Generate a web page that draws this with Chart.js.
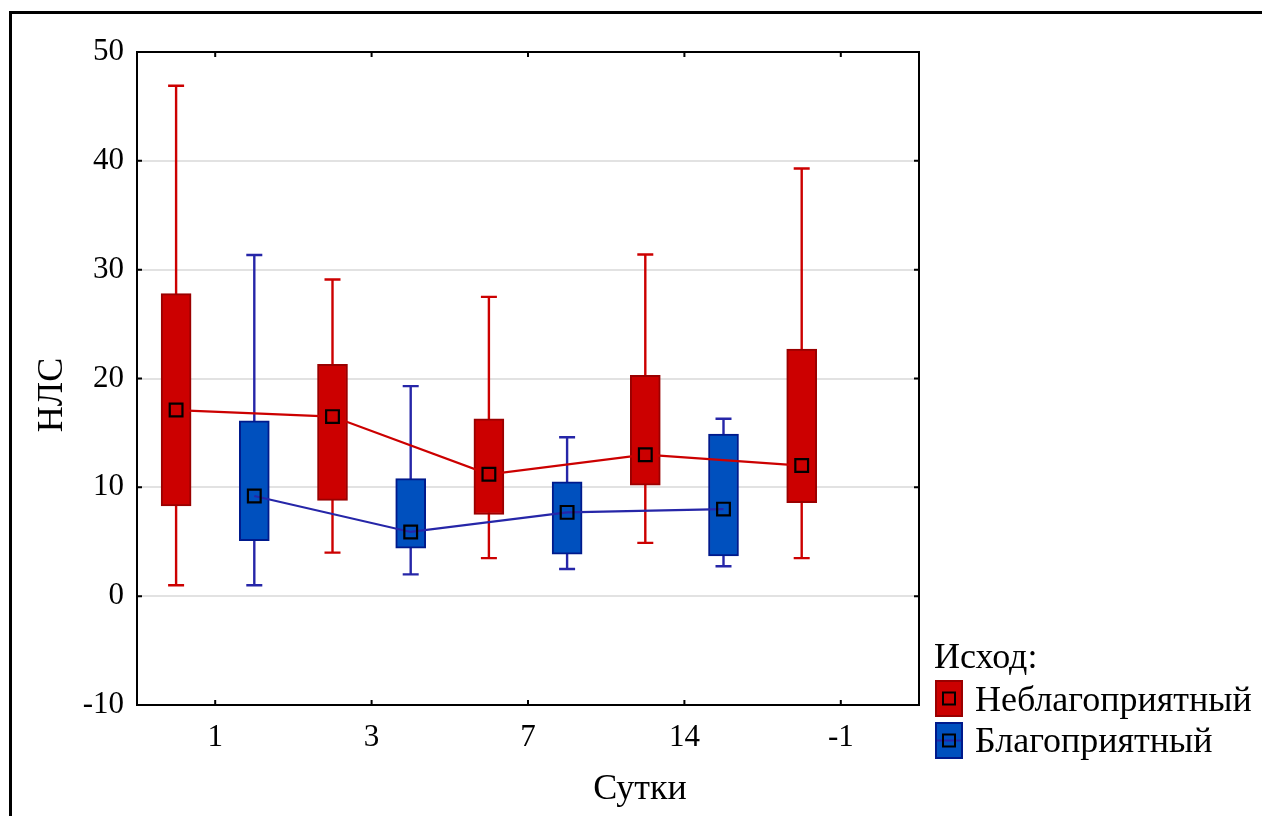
<!DOCTYPE html>
<html><head><meta charset="utf-8">
<script src="https://cdn.jsdelivr.net/npm/chart.js@4.4.0/dist/chart.umd.min.js"></script>
<style>
html,body{margin:0;padding:0;background:#fff;overflow:hidden;}
#wrap{position:relative;width:1262px;height:816px;overflow:hidden;}
#frame{position:absolute;left:9px;top:11px;width:1300px;height:900px;border-top:3px solid #000;border-left:3px solid #000;pointer-events:none;}
canvas{position:absolute;left:0;top:0;}
</style></head><body>
<div id="wrap"><canvas id="c" width="1262" height="816"></canvas><div id="frame"></div></div>
<script>
// ---- data ----
const categories = ['1', '3', '7', '14', '-1'];
const seriesNames = ['Неблагоприятный', 'Благоприятный'];
const legendTitle = 'Исход:';
const xTitle = 'Сутки';
const yTitle = 'НЛС';
const yTicks = [-10, 0, 10, 20, 30, 40, 50];

const redMin  = [1.0, 4.0, 3.5, 4.9, 3.5];
const redQ1   = [8.3, 8.8, 7.5, 10.2, 8.6];
const redMean = [17.1, 16.5, 11.2, 13.0, 12.0];
const redQ3   = [27.8, 21.3, 16.3, 20.3, 22.7];
const redMax  = [46.9, 29.1, 27.5, 31.4, 39.3];

const blueMin  = [1.0, 2.0, 2.5, 2.75, null];
const blueQ1   = [5.1, 4.4, 3.85, 3.7, null];
const blueMean = [9.2, 5.9, 7.7, 8.0, null];
const blueQ3   = [16.1, 10.8, 10.5, 14.9, null];
const blueMax  = [31.35, 19.3, 14.6, 16.3, null];

// ---- styles ----
const FONT = '"Liberation Serif", "Times New Roman", serif';
const RED_FILL = '#cc0000', RED_EDGE = '#9a0000', RED_LINE = '#cc0000';
const BLUE_FILL = '#0050be', BLUE_EDGE = '#001a8c', BLUE_LINE = '#2626a8';
const GROUP_OFFSET = 0.25; // red left of the category, blue right

const extras = {
  id: 'boxExtras',
  beforeDatasetsDraw(chart) {
    const ctx = chart.ctx, y = chart.scales.y, xl = chart.scales.xl;
    const sets = [[redMin, redMax, RED_LINE, -GROUP_OFFSET], [blueMin, blueMax, BLUE_LINE, GROUP_OFFSET]];
    ctx.save();
    sets.forEach(([mins, maxs, col, off]) => {
      categories.forEach((c, i) => {
        if (mins[i] == null || maxs[i] == null) return;
        const x = xl.getPixelForValue(i + off), y0 = y.getPixelForValue(mins[i]), y1 = y.getPixelForValue(maxs[i]);
        ctx.strokeStyle = col; ctx.lineWidth = 2.4;
        ctx.beginPath(); ctx.moveTo(x, y0); ctx.lineTo(x, y1);
        ctx.moveTo(x - 8, y0); ctx.lineTo(x + 8, y0);
        ctx.moveTo(x - 8, y1); ctx.lineTo(x + 8, y1);
        ctx.stroke();
      });
    });
    ctx.restore();
  },
  afterDatasetsDraw(chart) {
    const ctx = chart.ctx, a = chart.chartArea, y = chart.scales.y, x = chart.scales.x;
    ctx.save();
    ctx.strokeStyle = '#000'; ctx.lineWidth = 2;
    ctx.strokeRect(a.left, a.top, a.right - a.left, a.bottom - a.top);
    ctx.beginPath();
    yTicks.forEach(v => {
      const p = y.getPixelForValue(v);
      ctx.moveTo(a.left, p); ctx.lineTo(a.left + 5, p);
      ctx.moveTo(a.right, p); ctx.lineTo(a.right - 5, p);
    });
    categories.forEach((c, i) => {
      const p = x.getPixelForTick(i);
      ctx.moveTo(p, a.bottom); ctx.lineTo(p, a.bottom - 5);
      ctx.moveTo(p, a.top); ctx.lineTo(p, a.top + 5);
    });
    ctx.stroke();
    ctx.restore();
  },
  afterDraw(chart) {
    const ctx = chart.ctx;
    ctx.save();
    ctx.font = '36px ' + FONT;
    ctx.fillStyle = '#000';
    ctx.textBaseline = 'alphabetic';
    // axis titles
    ctx.textAlign = 'center';
    ctx.fillText(xTitle, 640, 799);
    ctx.save();
    ctx.translate(61.5, 395);
    ctx.rotate(-Math.PI / 2);
    ctx.fillText(yTitle, 0, 0);
    ctx.restore();
    // legend
    ctx.textAlign = 'left';
    ctx.fillText(legendTitle, 934, 668);
    const items = [[2, RED_FILL, RED_EDGE, RED_LINE], [3, BLUE_FILL, BLUE_EDGE, BLUE_LINE]];
    items.forEach(([di, fill, edge, line], k) => {
      const top = 681 + k * 42;
      const left = 936;
      ctx.fillStyle = fill;
      ctx.fillRect(left, top, 26, 35);
      ctx.strokeStyle = edge; ctx.lineWidth = 2;
      ctx.strokeRect(left, top, 26, 35);
      ctx.strokeStyle = line; ctx.lineWidth = 2;
      ctx.beginPath(); ctx.moveTo(left + 1, top + 17.5); ctx.lineTo(left + 25, top + 17.5); ctx.stroke();
      ctx.strokeStyle = '#000'; ctx.lineWidth = 2;
      ctx.strokeRect(left + 7, top + 11.5, 12, 12);
      ctx.fillStyle = '#000';
      ctx.fillText(chart.data.datasets[di].label, 975, 711 + k * 41);
    });
    ctx.restore();
  }
};

const tickFont = { family: FONT, size: 31 };

new Chart(document.getElementById('c'), {
  type: 'bar',
  data: {
    labels: categories,
    datasets: [
      {
        type: 'line', label: seriesNames[0] + ' (среднее)', xAxisID: 'xl', order: 1,
        data: redMean.map((v, i) => ({ x: i - GROUP_OFFSET, y: v })),
        borderColor: RED_LINE, borderWidth: 2.2, tension: 0,
        pointStyle: 'rect', pointRadius: 9, pointBorderColor: '#000', pointBorderWidth: 2.2,
        pointBackgroundColor: 'rgba(0,0,0,0)'
      },
      {
        type: 'line', label: seriesNames[1] + ' (среднее)', xAxisID: 'xl', order: 1,
        data: blueMean.map((v, i) => ({ x: i + GROUP_OFFSET, y: v })).filter(p => p.y != null),
        borderColor: BLUE_LINE, borderWidth: 2.2, tension: 0,
        pointStyle: 'rect', pointRadius: 9, pointBorderColor: '#000', pointBorderWidth: 2.2,
        pointBackgroundColor: 'rgba(0,0,0,0)'
      },
      {
        type: 'bar', label: seriesNames[0], xAxisID: 'xl', order: 2, grouped: false,
        data: redQ1.map((v, i) => ({ x: i - GROUP_OFFSET, y: [v, redQ3[i]] })),
        backgroundColor: RED_FILL, borderColor: RED_EDGE, borderWidth: 2, borderSkipped: false,
        barThickness: 30
      },
      {
        type: 'bar', label: seriesNames[1], xAxisID: 'xl', order: 2, grouped: false,
        data: blueQ1.map((v, i) => ({ x: i + GROUP_OFFSET, y: [v, blueQ3[i]] })).filter(p => p.y[0] != null),
        backgroundColor: BLUE_FILL, borderColor: BLUE_EDGE, borderWidth: 2, borderSkipped: false,
        barThickness: 30
      }
    ]
  },
  options: {
    responsive: false, animation: false, devicePixelRatio: 1,
    layout: { padding: { top: 52, right: 343, bottom: 0, left: 0 } },
    plugins: { legend: { display: false }, tooltip: { enabled: false } },
    scales: {
      x: {
        type: 'category', offset: true,
        grid: { display: false, drawTicks: false }, border: { display: false },
        ticks: { font: tickFont, color: '#000', padding: 14, maxRotation: 0 },
        title: { display: false },
        afterFit(s) { s.height = 111; }
      },
      xl: { type: 'linear', display: false, offset: false, min: -0.5, max: 4.5, grid: { offset: false } },
      y: {
        min: -10, max: 50,
        afterBuildTicks(s) { s.ticks = yTicks.map(v => ({ value: v })); },
        ticks: { font: tickFont, color: '#000', padding: 13 },
        grid: { color: '#e2e2e2', lineWidth: 2, drawTicks: false }, border: { display: false },
        title: { display: false },
        afterFit(s) { s.width = 137; }
      }
    }
  },
  plugins: [extras]
});
</script>
</body></html>
